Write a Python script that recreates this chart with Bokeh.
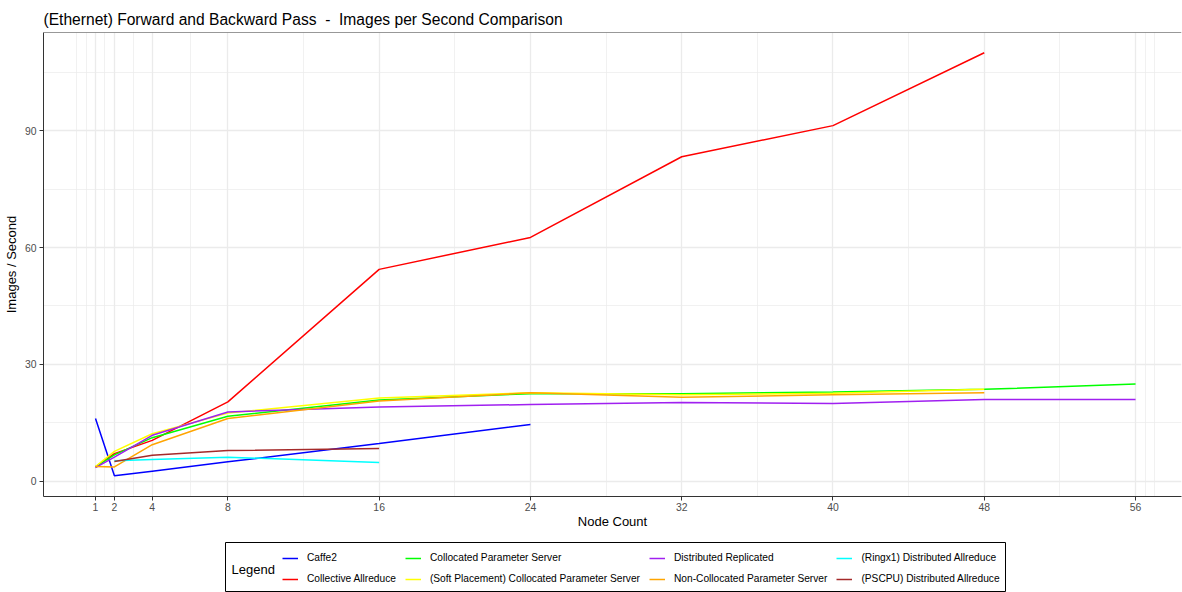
from bokeh.plotting import figure
from bokeh.layouts import column, row
from bokeh.models import (Range1d, FixedTicker, Legend, LegendItem, Span,
                          Label, Spacer)
from bokeh.embed import file_html
from bokeh.resources import INLINE

# ---- data: images per second by node count ----
caffe2_nodes = [1, 2, 4, 8, 16, 24]
caffe2_ips = [16.1, 1.4, 2.6, 5.0, 9.7, 14.6]

collective_nodes = [1, 2, 4, 8, 16, 24, 32, 40, 48]
collective_ips = [3.7, 7.1, 10.5, 20.4, 54.4, 62.6, 83.3, 91.3, 110.0]

collocated_nodes = [1, 2, 4, 8, 16, 24, 32, 40, 48, 56]
collocated_ips = [3.7, 6.8, 11.2, 16.7, 20.9, 22.5, 22.5, 22.9, 23.6, 25.0]

soft_nodes = [1, 2, 4, 8, 16, 24, 32, 40, 48]
soft_ips = [3.8, 7.7, 12.2, 17.5, 21.4, 22.7, 22.2, 22.6, 23.6]

replicated_nodes = [1, 2, 4, 8, 16, 24, 32, 40, 48, 56]
replicated_ips = [3.5, 6.2, 11.8, 17.8, 19.1, 19.7, 20.2, 20.0, 21.0, 21.0]

noncollocated_nodes = [1, 2, 4, 8, 16, 24, 32, 40, 48]
noncollocated_ips = [3.8, 3.7, 9.4, 16.1, 20.6, 22.7, 21.6, 22.2, 22.7]

ringx1_nodes = [2, 4, 8, 16]
ringx1_ips = [5.3, 5.6, 6.2, 4.8]

pscpu_nodes = [2, 4, 8, 16]
pscpu_ips = [5.1, 6.7, 7.9, 8.4]

series_names = [
    "Caffe2",
    "Collective Allreduce",
    "Collocated Parameter Server",
    "(Soft Placement) Collocated Parameter Server",
    "Distributed Replicated",
    "Non-Collocated Parameter Server",
    "(Ringx1) Distributed Allreduce",
    "(PSCPU) Distributed Allreduce",
]
series_colors = ["#0000FF", "#FF0000", "#00FF00", "#FFFF00",
                 "#A020F0", "#FFA500", "#00FFFF", "#A52A2A"]
series_data = [
    (caffe2_nodes, caffe2_ips),
    (collective_nodes, collective_ips),
    (collocated_nodes, collocated_ips),
    (soft_nodes, soft_ips),
    (replicated_nodes, replicated_ips),
    (noncollocated_nodes, noncollocated_ips),
    (ringx1_nodes, ringx1_ips),
    (pscpu_nodes, pscpu_ips),
]

x_ticks = [1, 2, 4, 8, 16, 24, 32, 40, 48, 56]
x_minor = [0, 0.5, 1.5, 3, 6, 12, 20, 28, 36, 44, 52, 56.5, 57]
y_ticks = [0, 30, 60, 90]
y_minor = [15, 45, 75, 105]

FONT = "Liberation Sans"
Y_TOP = 115.2

# ---- main panel ----
p = figure(
    width=1182, height=541,
    output_backend="svg", toolbar_location=None,
    x_range=Range1d(-1.75, 58.43), y_range=Range1d(-3.9, Y_TOP),
    min_border_left=42, min_border_right=1, min_border_top=32, min_border_bottom=45,
    title="(Ethernet) Forward and Backward Pass \u00a0-\u00a0 Images per Second Comparison",
)
p.outline_line_color = None
p.background_fill_color = "white"
p.border_fill_color = "white"

p.title.text_font = FONT
p.title.text_font_size = "15.6px"
p.title.text_font_style = "normal"
p.title.text_color = "black"
p.title.standoff = 10

for g in (p.xgrid, p.ygrid):
    g.grid_line_color = "#EBEBEB"
    g.grid_line_width = 1.3
    g.minor_grid_line_color = "#EBEBEB"
    g.minor_grid_line_width = 0.7

p.xaxis.ticker = FixedTicker(ticks=x_ticks, minor_ticks=x_minor)
p.yaxis.ticker = FixedTicker(ticks=y_ticks, minor_ticks=y_minor)

for ax in (p.xaxis, p.yaxis):
    ax.axis_line_color = "#333333"
    ax.axis_line_width = 1
    ax.major_tick_line_color = "#333333"
    ax.major_tick_out = 4
    ax.major_tick_in = 0
    ax.minor_tick_out = 0
    ax.minor_tick_in = 0
    ax.major_label_text_font = FONT
    ax.major_label_text_font_size = "10.4px"
    ax.major_label_text_color = "#4D4D4D"
    ax.axis_label_text_font = FONT
    ax.axis_label_text_font_size = "13px"
    ax.axis_label_text_font_style = "normal"
    ax.axis_label_text_color = "black"

p.xaxis.axis_label = "Node Count"
p.xaxis.major_label_standoff = 2
p.xaxis.axis_label_standoff = 0
p.yaxis.axis_label = "Images / Second"
p.yaxis.major_label_standoff = 3
p.yaxis.axis_label_standoff = 3

# top edge of the panel border
p.add_layout(Span(location=Y_TOP, dimension="width", line_color="#333333", line_width=1))

for name, color, (xs, ys) in zip(series_names, series_colors, series_data):
    p.line(xs, ys, line_color=color, line_width=1.5)

# ---- legend box underneath ----
lg = figure(
    width=782, height=51, output_backend="svg", toolbar_location=None,
    x_axis_type=None, y_axis_type=None,
    min_border_left=1, min_border_right=1, min_border_top=1, min_border_bottom=1,
)
lg.outline_line_color = "black"
lg.outline_line_width = 1
lg.grid.visible = False
lg.background_fill_color = "white"
lg.border_fill_color = "white"

# key swatches: one undefined point per series so nothing is plotted
nan = float("nan")
items = []
for name, color in zip(series_names, series_colors):
    r = lg.line(x=[nan], y=[nan], line_color=color, line_width=1.5)
    items.append(LegendItem(label=name, renderers=[r]))

legend = Legend(
    items=items, orientation="vertical", nrows=2,
    location=(57, 6.3),
    border_line_color=None, background_fill_alpha=0,
    glyph_width=16, glyph_height=12, label_height=12,
    label_standoff=9, spacing=9, padding=0, margin=0,
)
legend.label_text_font = FONT
legend.label_text_font_size = "10.2px"
legend.label_text_color = "black"
lg.add_layout(legend)

lg.add_layout(Label(
    x=6, y=22, x_units="screen", y_units="screen", text="Legend",
    text_font=FONT, text_font_size="13px", text_color="black",
    text_baseline="middle", text_align="left",
))

layout = column(p, row(Spacer(width=224, height=51), lg))

open("out.html", "w").write(file_html(layout, INLINE))
